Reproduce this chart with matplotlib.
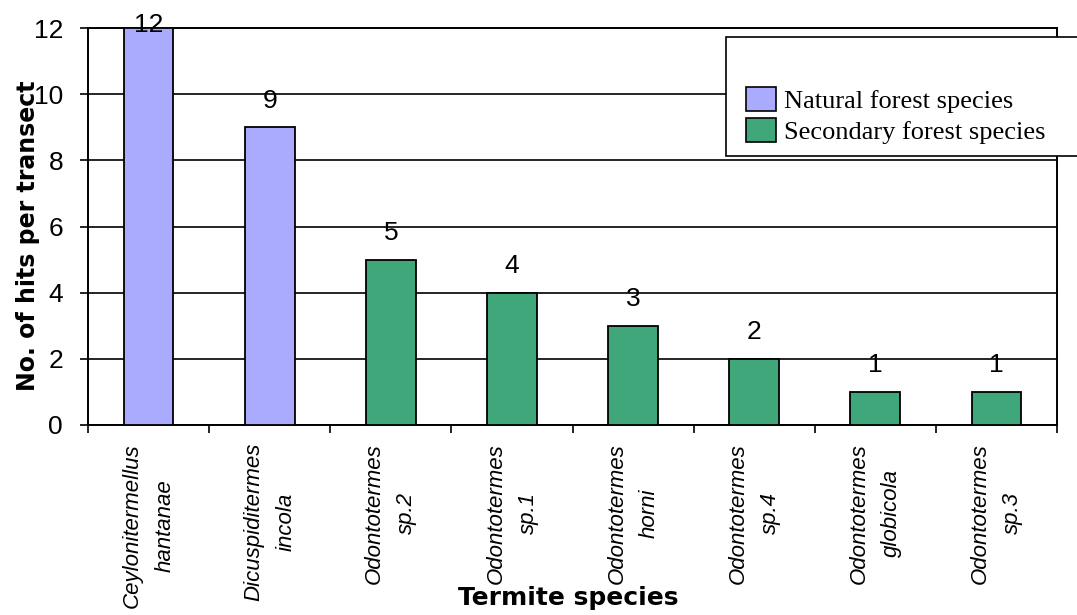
import matplotlib
matplotlib.use("Agg")
import matplotlib.pyplot as plt
from matplotlib.patches import Rectangle, Patch

# hits per transect for each termite species
species = ["Ceylonitermellus\nhantanae", "Dicuspiditermes\nincola", "Odontotermes\nsp.2",
           "Odontotermes\nsp.1", "Odontotermes\nhorni", "Odontotermes\nsp.4",
           "Odontotermes\nglobicola", "Odontotermes\nsp.3"]
hits = [12, 9, 5, 4, 3, 2, 1, 1]
forest_type = ["natural", "natural", "secondary", "secondary", "secondary",
               "secondary", "secondary", "secondary"]
legend_labels = ["Natural forest species", "Secondary forest species"]

colors = {"natural": "#aaaaff", "secondary": "#3fa77a"}

fig = plt.figure(figsize=(10.77, 6.15), dpi=100)
ax = fig.add_axes([88 / 1077, 1 - 425 / 615, (1057 - 88) / 1077, 397 / 615])

x = list(range(len(species)))
ax.bar(x, hits, width=0.41, color=[colors[f] for f in forest_type],
       edgecolor="black", linewidth=1.3, zorder=3)

for xi, v in zip(x, hits):
    ax.text(xi, min(v + 0.8, 12.1), str(v), ha="center", va="center",
            fontsize=19, family="Liberation Sans", zorder=4)

ax.set_xlim(-0.5, len(species) - 0.5)
ax.set_ylim(0, 12)
ax.set_yticks(range(0, 13, 2))
ax.grid(axis="y", color="black", linewidth=1.2, zorder=1)
ax.set_axisbelow(True)

ax.set_xticks(x)
ax.set_xticklabels(species, rotation=90, ha="center", va="top", multialignment="center",
                   fontsize=16, family="Liberation Sans", style="italic")
for lab in ax.get_xticklabels():
    lab.set_linespacing(1.7)
ax.set_xticks([i - 0.5 for i in range(len(species) + 1)], minor=True)
ax.tick_params(axis="x", which="major", length=0, pad=13)
ax.tick_params(axis="x", which="minor", length=6, width=1.2, direction="out")
ax.tick_params(axis="y", length=6, width=1.2, direction="out", pad=12, labelsize=19)
for lab in ax.get_yticklabels():
    lab.set_family("Liberation Sans")

for s in ax.spines.values():
    s.set_linewidth(1.4)

fig.text(28 / 1077, 1 - 236 / 615, "No. of hits per transect", rotation=90,
         ha="center", va="center", fontsize=17, fontweight="bold", family="DejaVu Sans")
fig.text(568 / 1077, 1 - 598 / 615, "Termite species", ha="center", va="center",
         fontsize=18, fontweight="bold", family="DejaVu Sans")

# legend box hangs over the top right corner of the plot
box = Rectangle((726 / 1077, 1 - 156 / 615), 0.4, 119 / 615, transform=fig.transFigure,
                facecolor="white", edgecolor="black", linewidth=1.2, zorder=5, clip_on=False)
fig.patches.append(box)

handles = [Patch(facecolor=colors["natural"], edgecolor="black", linewidth=1.2),
           Patch(facecolor=colors["secondary"], edgecolor="black", linewidth=1.2)]
leg = fig.legend(handles, legend_labels, loc="upper left",
                 bbox_to_anchor=(746 / 1077, 1 - 87 / 615), frameon=False,
                 prop={"family": "Liberation Serif", "size": 19},
                 handlelength=1.13, handleheight=1.0, handletextpad=0.3,
                 labelspacing=0.2, borderpad=0, borderaxespad=0)
leg.set_zorder(6)

fig.savefig("out.png", dpi=100)
